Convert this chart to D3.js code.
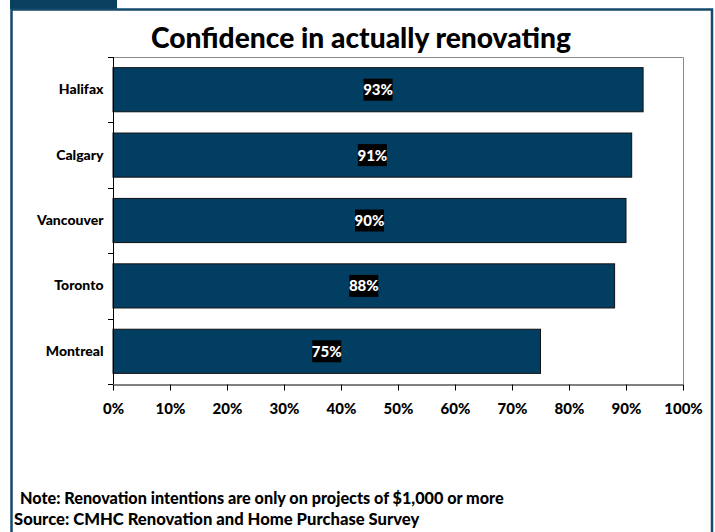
<!DOCTYPE html>
<html>
<head>
<meta charset="utf-8">
<script src="https://cdn.jsdelivr.net/npm/d3@7"></script>
<style>
  html, body { margin: 0; padding: 0; background: #fff; }
  svg { display: block; }
  text { font-family: Lato, "Open Sans", sans-serif; font-weight: 900; }
</style>
</head>
<body>
<svg id="chart" width="715" height="532"></svg>
<script>
// Share of renovators confident they will actually renovate, by city
const cities = ["Halifax", "Calgary", "Vancouver", "Toronto", "Montreal"];
const confidence = [93, 91, 90, 88, 75];
const xTicks = [0, 10, 20, 30, 40, 50, 60, 70, 80, 90, 100];
const title = "Confidence in actually renovating";
const notes = [
  "Note: Renovation intentions are only on projects of $1,000 or more",
  "Source: CMHC Renovation and Home Purchase Survey"
];

const svg = d3.select("#chart");
const navy = "#023e62";
const frame = "#144a6c";
const fontStack = "Lato, 'Open Sans', sans-serif";

// Slide frame with a small tab at the top left
svg.append("rect").attr("x", 10).attr("y", 0).attr("width", 107).attr("height", 9).attr("fill", "#0a3f60");
svg.append("path")
  .attr("d", "M11.5,532 V9.5 H712 V532")
  .attr("fill", "none").attr("stroke", frame).attr("stroke-width", 2.5);

// Title
svg.append("text")
  .attr("x", 361).attr("y", 48)
  .attr("text-anchor", "middle")
  .attr("font-size", 28.2)
  .attr("fill", "#000")
  .text(title);

const plot = { left: 113, right: 683, top: 57, bottom: 384 };

const x = d3.scaleLinear().domain([0, 100]).range([plot.left, plot.right]);
const y = d3.scaleBand().domain(cities).range([plot.top, plot.bottom])
  .paddingInner(0.325).paddingOuter(0.1625);

// Plot area border (top and right)
svg.append("path")
  .attr("d", `M${plot.left},${plot.top + 0.5} H${plot.right + 0.5} V${plot.bottom}`)
  .attr("fill", "none").attr("stroke", "#8a8a8a").attr("stroke-width", 1);

// Bars
const data = cities.map((c, i) => ({ city: c, value: confidence[i] }));
svg.append("g").selectAll("rect").data(data).join("rect")
  .attr("x", x(0))
  .attr("y", d => y(d.city))
  .attr("width", d => x(d.value) - x(0))
  .attr("height", y.bandwidth())
  .attr("fill", navy)
  .attr("stroke", "#111")
  .attr("stroke-width", 1);

// Value labels on black boxes, centred on each bar
const labels = svg.append("g").selectAll("g").data(data).join("g")
  .attr("transform", d => `translate(${(x(0) + x(d.value)) / 2},${y(d.city) + y.bandwidth() / 2})`);
labels.append("rect")
  .attr("x", -14.5).attr("y", -11).attr("width", 29).attr("height", 22)
  .attr("fill", "#000");
labels.append("text")
  .attr("text-anchor", "middle").attr("dy", "0.36em")
  .attr("font-size", 15).attr("fill", "#fff")
  .text(d => d.value + "%");

// Category axis
const yAxis = svg.append("g")
  .attr("transform", `translate(${plot.left + 0.5},0)`)
  .call(d3.axisLeft(y).tickSize(0).tickPadding(10));
yAxis.select(".domain").remove();
yAxis.selectAll("text").attr("font-size", 14).attr("fill", "#000")
  .style("font-family", fontStack).style("font-weight", "900");
// Band boundary ticks
const bounds = cities.map(c => y(c) - y.step() * y.paddingInner() / 2).concat([plot.bottom]);
bounds[0] = plot.top;
svg.append("g").selectAll("line").data(bounds).join("line")
  .attr("x1", plot.left - 5).attr("x2", plot.left)
  .attr("y1", d => Math.round(d) + 0.5).attr("y2", d => Math.round(d) + 0.5)
  .attr("stroke", "#000");
svg.append("line")
  .attr("x1", plot.left + 0.5).attr("x2", plot.left + 0.5)
  .attr("y1", plot.top).attr("y2", plot.bottom)
  .attr("stroke", "#000");

// Value axis
const xAxis = svg.append("g")
  .attr("transform", `translate(0,${plot.bottom + 0.5})`)
  .call(d3.axisBottom(x).tickValues(xTicks).tickFormat(d => d + "%").tickSize(6).tickSizeOuter(0).tickPadding(13));
xAxis.select(".domain").attr("stroke", "#000");
xAxis.selectAll("line").attr("stroke", "#000");
xAxis.selectAll("text").attr("font-size", 15).attr("fill", "#000")
  .style("font-family", fontStack).style("font-weight", "900");

// Footnotes
svg.append("text").attr("x", 20).attr("y", 504).attr("font-size", 16.2).attr("fill", "#000").text(notes[0]);
svg.append("text").attr("x", 14).attr("y", 525).attr("font-size", 16.6).attr("fill", "#000").text(notes[1]);
</script>
</body>
</html>
